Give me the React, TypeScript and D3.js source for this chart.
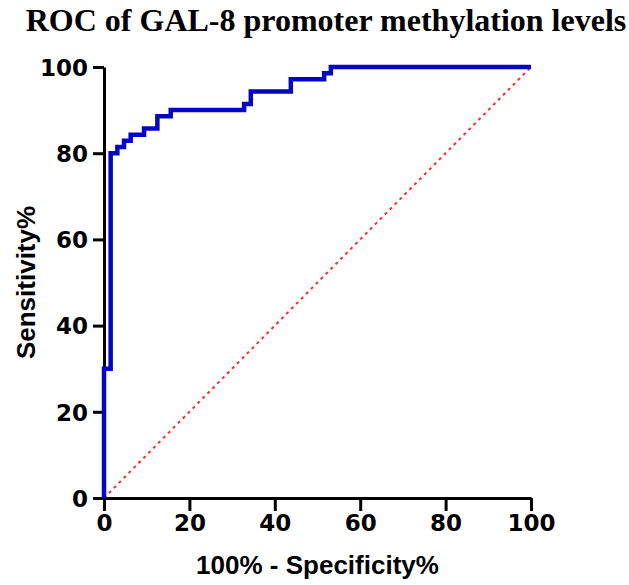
import React, { useEffect, useRef } from 'react';
import * as d3 from 'd3';

// ROC corner points (stepBefore: rise first, then run)
const fprPts = [0, 1.56, 3.13, 4.69, 6.25, 9.38, 12.5, 15.63, 32.81, 34.38, 43.75, 51.56, 53.13, 100];
const tprPts = [0, 30, 80, 81.43, 82.86, 84.29, 85.71, 88.57, 90, 91.43, 94.29, 97.14, 98.57, 100];
const refLine = [0, 100];
const tickVals = [0, 20, 40, 60, 80, 100];

export default function App() {
	const ref = useRef<HTMLDivElement>(null);

	useEffect(() => {
		const el = ref.current;
		if (!el) return;
		el.innerHTML = '';
		document.body.style.margin = '0';

		const width = 629;
		const height = 585;
		const margin = { top: 67, right: 98, bottom: 87, left: 104 };
		const sans = 'Liberation Sans, Arial, sans-serif';

		const svg = d3.select(el)
			.append('svg')
			.attr('width', width)
			.attr('height', height)
			.style('display', 'block')
			.style('background', '#fff');

		const x = d3.scaleLinear().domain([0, 100]).range([margin.left, width - margin.right]);
		const y = d3.scaleLinear().domain([0, 100]).range([height - margin.bottom, margin.top]);

		// title
		svg.append('text')
			.attr('x', 326)
			.attr('y', 31)
			.attr('text-anchor', 'middle')
			.style('font-family', 'Liberation Serif, Times New Roman, serif')
			.style('font-weight', 'bold')
			.style('font-size', '32px')
			.text('ROC of GAL-8 promoter methylation levels');

		// reference diagonal
		svg.append('line')
			.attr('x1', x(refLine[0]))
			.attr('y1', y(refLine[0]))
			.attr('x2', x(refLine[1]))
			.attr('y2', y(refLine[1]))
			.attr('stroke', '#ff2a2a')
			.attr('stroke-width', 2)
			.attr('stroke-dasharray', '3,4');

		const xAxis = svg.append('g')
			.attr('transform', `translate(0,${y(0)})`)
			.call(d3.axisBottom(x).tickValues(tickVals).tickSize(13).tickSizeOuter(0).tickPadding(4));
		const yAxis = svg.append('g')
			.attr('transform', `translate(${x(0)},0)`)
			.call(d3.axisLeft(y).tickValues(tickVals).tickSize(11).tickSizeOuter(0).tickPadding(5));

		[xAxis, yAxis].forEach(g => {
			g.select('.domain').attr('stroke', '#000').attr('stroke-width', 3);
			g.selectAll('.tick line').attr('stroke', '#000').attr('stroke-width', 3);
			g.selectAll('.tick text')
				.attr('fill', '#000')
				.style('font-family', 'DejaVu Sans, Verdana, sans-serif')
				.style('font-weight', 'bold')
				.style('font-size', '23px');
		});
		yAxis.selectAll('.tick text').attr('dy', '0.36em');

		// ROC curve
		const pts = fprPts.map((f, i) => [f, tprPts[i]] as [number, number]);
		const line = d3.line<[number, number]>()
			.x(d => x(d[0]))
			.y(d => y(d[1]))
			.curve(d3.curveStepBefore);
		svg.append('path')
			.datum(pts)
			.attr('d', line)
			.attr('fill', 'none')
			.attr('stroke', '#0505c8')
			.attr('stroke-width', 4.5)
			.attr('stroke-linejoin', 'miter');

		// axis titles
		svg.append('text')
			.attr('x', (x(0) + x(100)) / 2)
			.attr('y', 574)
			.attr('text-anchor', 'middle')
			.style('font-family', sans)
			.style('font-weight', 'bold')
			.style('font-size', '26px')
			.text('100% - Specificity%');

		svg.append('text')
			.attr('transform', `translate(35,${(y(0) + y(100)) / 2}) rotate(-90)`)
			.attr('text-anchor', 'middle')
			.style('font-family', sans)
			.style('font-weight', 'bold')
			.style('font-size', '26px')
			.text('Sensitivity%');

		return () => { el.innerHTML = ''; };
	}, []);

	return <div ref={ref} />;
}
